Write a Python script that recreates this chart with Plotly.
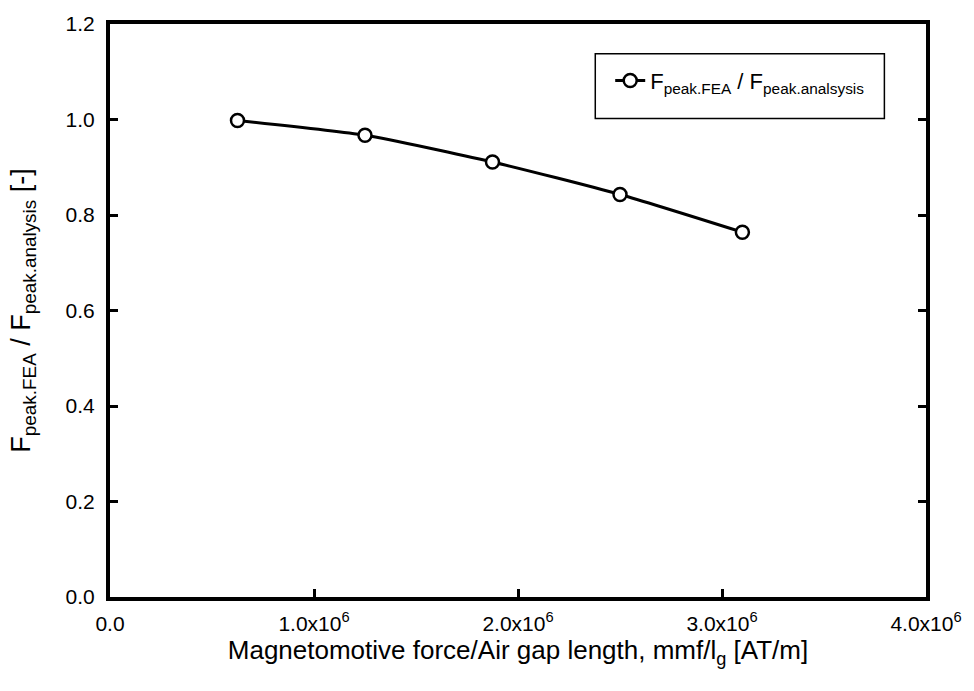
import plotly.graph_objects as go

x_vals = [0.625e6, 1.25e6, 1.875e6, 2.5e6, 3.1e6]
y_vals = [0.998, 0.967, 0.911, 0.843, 0.764]

x_tickvals = [0, 1e6, 2e6, 3e6, 4e6]
x_ticktext = ["0.0", "1.0x10<sup>6</sup>", "2.0x10<sup>6</sup>", "3.0x10<sup>6</sup>", "4.0x10<sup>6</sup>"]
y_tickvals = [0.0, 0.2, 0.4, 0.6, 0.8, 1.0, 1.2]
y_ticktext = ["0.0", "0.2", "0.4", "0.6", "0.8", "1.0", "1.2"]

series_name = "F<sub>peak.FEA</sub> / F<sub>peak.analsysis</sub>"
x_title = "Magnetomotive force/Air gap length, mmf/l<sub>g</sub> [AT/m]"
y_title = "F<sub>peak.FEA</sub> / F<sub>peak.analysis</sub> [-]"

font_family = "Liberation Sans, Arial, sans-serif"

fig = go.Figure()
fig.add_trace(go.Scatter(
    x=x_vals, y=y_vals,
    mode="lines+markers",
    line=dict(color="black", width=3, shape="spline", smoothing=0.6),
    marker=dict(symbol="circle", size=13, color="white", line=dict(color="black", width=2.5)),
    name=series_name,
))

common = dict(
    showline=True, linecolor="black", linewidth=4,
    ticks="inside", ticklen=8, tickwidth=2.5, tickcolor="black",
    showgrid=False, zeroline=False,
)

fig.update_layout(
    width=974, height=691,
    margin=dict(l=110, r=40, t=15, b=94),
    paper_bgcolor="white", plot_bgcolor="white",
    font=dict(family=font_family, color="black"),
    xaxis=dict(range=[0, 4e6], tickvals=x_tickvals, ticktext=x_ticktext, mirror=True,
               tickfont=dict(family=font_family, size=21, color="black"),
               ticklabelstandoff=5,
               title=dict(text=x_title, font=dict(family=font_family, size=26), standoff=4),
               **common),
    yaxis=dict(range=[0, 1.2], tickvals=y_tickvals, ticktext=y_ticktext, mirror="ticks",
               tickfont=dict(family=font_family, size=21, color="black"),
               ticklabelstandoff=7,
               title=dict(text=y_title, font=dict(family=font_family, size=27), standoff=28),
               **common),
    showlegend=True,
    legend=dict(x=0.613, y=0.901, xanchor="left", yanchor="middle",
                borderwidth=0, bgcolor="rgba(0,0,0,0)",
                font=dict(family=font_family, size=22, color="black")),
    shapes=[dict(type="rect", xref="paper", yref="paper",
                 x0=0.5947, x1=0.949, y0=0.835, y1=0.948,
                 line=dict(color="black", width=1.5), fillcolor="rgba(0,0,0,0)", layer="below")],
)

fig.write_html("out.html", config={"displayModeBar": False},
               post_script="document.body.style.margin='0';")
